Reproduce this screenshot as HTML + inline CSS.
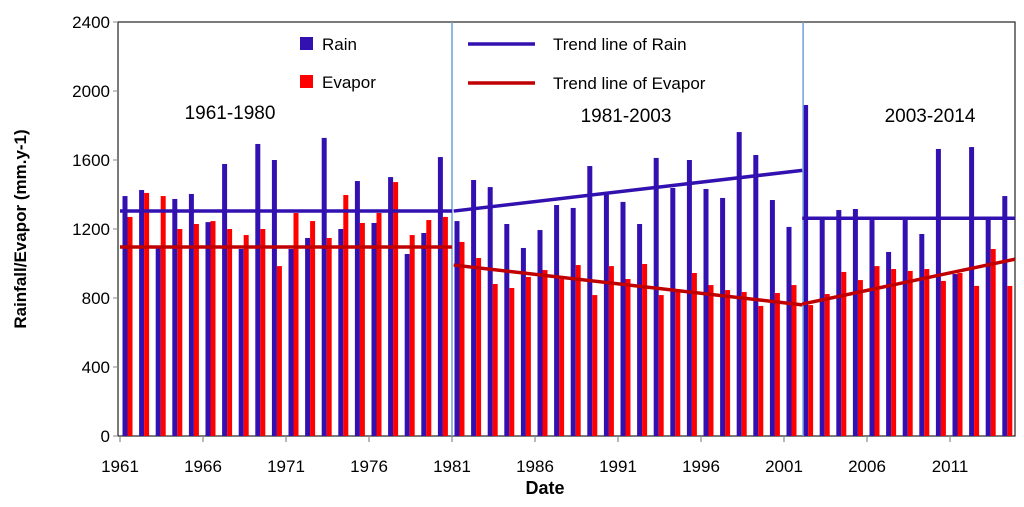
<!DOCTYPE html>
<html><head><meta charset="utf-8"><style>
body{margin:0;background:#fff;}
svg{font-family:"Liberation Sans",sans-serif;}
</style></head><body>
<svg id="chart" width="1024" height="502"></svg>
<script>
const years=[];for(let y=1961;y<=2014;y++)years.push(y);
const rain=[1391,1426,1090,1374,1403,1240,1577,1084,1693,1600,1084,1148,1728,1200,1478,1235,1501,1055,1177,1617,
1246,1484,1443,1229,1090,1194,1339,1322,1565,1403,1357,1229,1612,1438,1600,1432,1380,1762,1629,1368,1212,1919,
1270,1310,1316,1252,1067,1252,1171,1664,939,1675,1258,1391];
const evapor=[1270,1409,1391,1200,1229,1246,1200,1165,1200,985,1293,1246,1148,1397,1235,1293,1472,1165,1252,1270,
1125,1032,881,858,922,962,910,991,817,985,910,997,817,835,945,875,846,835,754,829,875,759,
823,951,904,985,968,957,968,899,945,870,1084,870];
const yTicks=[0,400,800,1200,1600,2000,2400];
const xLabels=["1961","1966","1971","1976","1981","1986","1991","1996","2001","2006","2011"];
// trend segments in year-slot units: [startSlot, endSlot, startValue, endValue]
const rainTrend=[[0,20,1304,1304],[20.1,41.1,1304,1540],[41.1,54,1262,1262]];
const evapTrend=[[0,20,1096,1096],[20.1,41.1,991,760],[41.1,54,765,1025]];
const separators=[20,41.15];

const NS="http://www.w3.org/2000/svg",svg=document.getElementById('chart');
const X0=118,X1=1015,Y0=436,Y1=22;
const y=v=>Y0-(v/2400)*(Y0-Y1);
const slot=s=>120+s*16.6;          // left edge of year slot
const x=i=>slot(i)+5;              // blue bar centre
function el(t,a,p){const e=document.createElementNS(NS,t);for(const k in a)e.setAttribute(k,a[k]);(p||svg).appendChild(e);return e;}

const frame=el('rect',{x:X0,y:Y1,width:X1-X0,height:Y0-Y1,fill:'none',stroke:'#222','stroke-width':1.2});



yTicks.forEach(v=>{
 const t=el('line',{x1:X0-5,x2:X0,y1:y(v),y2:y(v),stroke:'#888'});
 
 
 const l=el('text',{x:X0-8,y:y(v)+6,'text-anchor':'end','font-size':17,fill:'#000'});l.textContent=v;
 
 
});
xLabels.forEach((s,i)=>{
 const tx=slot(i*5);
 const t=el('line',{x1:tx,x2:tx,y1:Y0,y2:Y0+6,stroke:'#888','stroke-width':1.2});
 
 
 const l=el('text',{x:tx,y:472,'text-anchor':'middle','font-size':17});l.textContent=s;
 
 
});
years.forEach((yr,i)=>{
 const b=el('rect',{x:x(i)-2.5,y:y(rain[i]),width:5,height:Y0-y(rain[i]),fill:'#3311b0'});
 
 
 const r=el('rect',{x:x(i)+2.5,y:y(evapor[i]),width:5,height:Y0-y(evapor[i]),fill:'#ff0000'});
 
 
});
separators.forEach(s=>{
 const l=el('line',{x1:slot(s),x2:slot(s),y1:Y1,y2:Y0,stroke:'#6fa0d8','stroke-width':1.5});
 
 
});
rainTrend.forEach(s=>{
 const l=el('line',{x1:Math.max(slot(s[0]),X0),x2:Math.min(slot(s[1]),X1),y1:y(s[2]),y2:y(s[3]),stroke:'#3311b0','stroke-width':3.5});
 
 
});
evapTrend.forEach(s=>{
 const l=el('line',{x1:Math.max(slot(s[0]),X0),x2:Math.min(slot(s[1]),X1),y1:y(s[2]),y2:y(s[3]),stroke:'#c00000','stroke-width':3.5});
 
 
});
function txt(s,a,name){const t=el('text',a);t.textContent=s;
 
 return t;}
txt('1961-1980',{x:230,y:119,'text-anchor':'middle','font-size':19},'period-label-1');
txt('1981-2003',{x:626,y:122,'text-anchor':'middle','font-size':19},'period-label-2');
txt('2003-2014',{x:930,y:122,'text-anchor':'middle','font-size':19},'period-label-3');
const lg=[['#3311b0','Rain',44],['#ff0000','Evapor',82]];
lg.forEach(([c,s,yy])=>{
 const r=el('rect',{x:300,y:yy-7,width:13,height:13,fill:c});
 
 
 txt(s,{x:322,y:yy+6,'font-size':17},'legend-entry-'+s.toLowerCase());
});
[['#3311b0','Trend line of Rain',44],['#c00000','Trend line of Evapor',83]].forEach(([c,s,yy],i)=>{
 const l=el('line',{x1:468,x2:535,y1:yy,y2:yy,stroke:c,'stroke-width':3.5});
 
 
 txt(s,{x:553,y:yy+6,'font-size':17},'legend-trend-entry-'+i);
});
txt('Date',{x:545,y:494,'text-anchor':'middle','font-size':18,'font-weight':'bold'},'x-axis-title');
txt('Rainfall/Evapor (mm.y-1)',{x:0,y:0,'text-anchor':'middle','font-size':17,'font-weight':'bold',transform:'translate(26,229) rotate(-90)'},'y-axis-title');
</script>
</body></html>
